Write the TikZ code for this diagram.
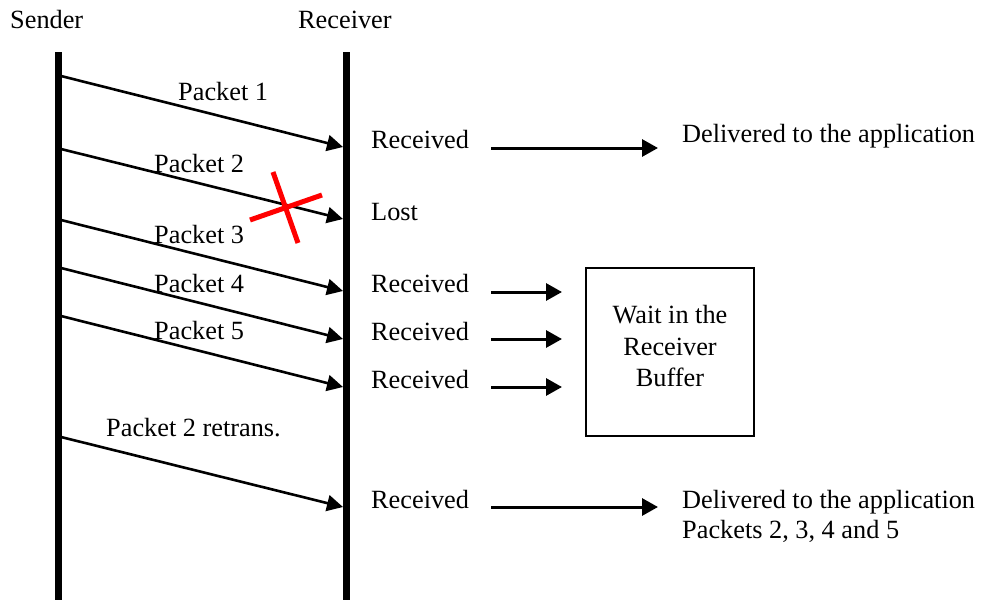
\documentclass[tikz,border=0pt]{standalone}
\usepackage{fontspec}
\setmainfont{Liberation Serif}
\usetikzlibrary{arrows.meta}
\begin{document}
\begin{tikzpicture}[x=1pt,y=-1pt,
  txt/.style={anchor=base west,inner sep=0pt,font=\fontsize{26.3}{31}\selectfont},
  lifeline/.style={line width=7pt},
  packet/.style={line width=2.6pt,-{Triangle[length=16pt,width=16pt]}},
  deliver/.style={line width=3pt,-{Triangle[length=16pt,width=17pt]}},
  lossmark/.style={red,line width=5pt},
  bufferbox/.style={draw,line width=2pt,minimum width=168pt,minimum height=168pt,inner sep=0pt}]
\useasboundingbox (0,0) rectangle (985,600);

% headings
\node[txt] (sender) at (10,28) {Sender};
\node[txt] (receiver) at (298,28) {Receiver};

% life lines
\coordinate (stop) at (58,52);   \coordinate (sbot) at (58,600);
\coordinate (rtop) at (346,52);  \coordinate (rbot) at (346,600);
\draw[lifeline] (stop) -- (sbot);
\draw[lifeline] (rtop) -- (rbot);

% packet end points
\coordinate (s1) at (61,76);   \coordinate (r1) at (343,147);
\coordinate (s2) at (61,149);  \coordinate (r2) at (343,219);
\coordinate (s3) at (61,220);  \coordinate (r3) at (343,291);
\coordinate (s4) at (61,268);  \coordinate (r4) at (343,339);
\coordinate (s5) at (61,316);  \coordinate (r5) at (343,387);
\coordinate (s6) at (61,437);  \coordinate (r6) at (343,507);

\draw[packet] (s1) -- (r1);
\draw[packet] (s2) -- (r2);
\draw[packet] (s3) -- (r3);
\draw[packet] (s4) -- (r4);
\draw[packet] (s5) -- (r5);
\draw[packet] (s6) -- (r6);

% packet labels
\node[txt] (p1) at (178,100) {Packet 1};
\node[txt] (p2) at (154,172) {Packet 2};
\node[txt] (p3) at (154,243) {Packet 3};
\node[txt] (p4) at (154,292) {Packet 4};
\node[txt] (p5) at (154,339) {Packet 5};
\node[txt] (p6) at (106,436) {Packet 2 retrans.};

% the lost packet
\coordinate (xa) at (250,220); \coordinate (xb) at (322,195);
\coordinate (xc) at (273,172); \coordinate (xd) at (298,243);
\draw[lossmark] (xa) -- (xb);
\draw[lossmark] (xc) -- (xd);

% receiver side
\node[txt] (rc1) at (371,148) {Received};
\node[txt] (lost) at (371,220) {Lost};
\node[txt] (rc3) at (371,292) {Received};
\node[txt] (rc4) at (371,340) {Received};
\node[txt] (rc5) at (371,388) {Received};
\node[txt] (rc6) at (371,508) {Received};

\node[bufferbox] (buf) at (670,351.5) {};
\node[txt,anchor=base] (b1) at (670,323) {Wait in the};
\node[txt,anchor=base] (b2) at (670,355) {Receiver};
\node[txt,anchor=base] (b3) at (670,386) {Buffer};

\node[txt] (app1) at (682,142) {Delivered to the application};
\node[txt] (app2) at (682,508) {Delivered to the application};
\node[txt] (app3) at (682,538) {Packets 2, 3, 4 and 5};

% hand-over arrows
\coordinate (d1a) at (491,148); \coordinate (d1b) at (658,148);
\coordinate (d3a) at (491,292); \coordinate (d3b) at (562,292);
\coordinate (d4a) at (491,339); \coordinate (d4b) at (562,339);
\coordinate (d5a) at (491,387); \coordinate (d5b) at (562,387);
\coordinate (d6a) at (491,507); \coordinate (d6b) at (658,507);
\draw[deliver] (d1a) -- (d1b);
\draw[deliver] (d3a) -- (d3b);
\draw[deliver] (d4a) -- (d4b);
\draw[deliver] (d5a) -- (d5b);
\draw[deliver] (d6a) -- (d6b);
\end{tikzpicture}
\end{document}
